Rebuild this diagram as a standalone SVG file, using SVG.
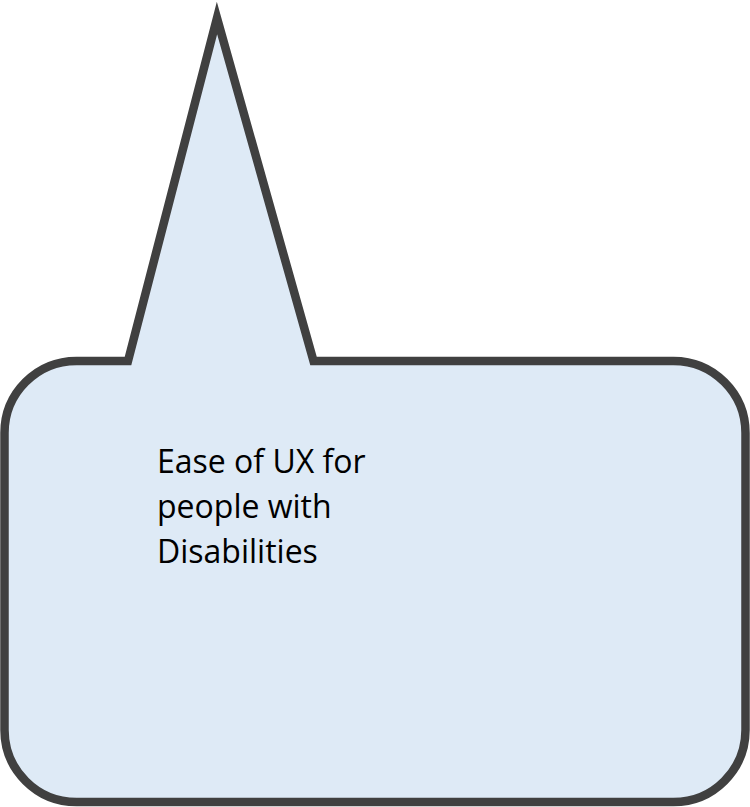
<svg xmlns="http://www.w3.org/2000/svg" width="750" height="807" viewBox="0 0 750 807">
<style>
.callout{fill:#DEEAF6;stroke:#404040;stroke-width:8.5;stroke-linejoin:miter;stroke-miterlimit:20}
.label{font-family:"Open Sans","Noto Sans","Liberation Sans",sans-serif;font-size:32px;fill:#000;font-variant-ligatures:none}
</style>
<rect width="750" height="807" fill="#fff"/>
<g id="callout">
<path class="callout" d="M76.5,361 L128,361 L217,18 L313.5,361 L673.5,361 A72,72 0 0 1 745.5,433 L745.5,730 A72,72 0 0 1 673.5,802 L76.5,802 A72,72 0 0 1 4.5,730 L4.5,433 A72,72 0 0 1 76.5,361 Z"/>
<text class="label" x="157" y="472.5">Ease of UX for</text>
<text class="label" x="157" y="517.5">people with</text>
<text class="label" x="157" y="562.5">Disabilities</text>
</g>
<g id="connectors"/>
</svg>
